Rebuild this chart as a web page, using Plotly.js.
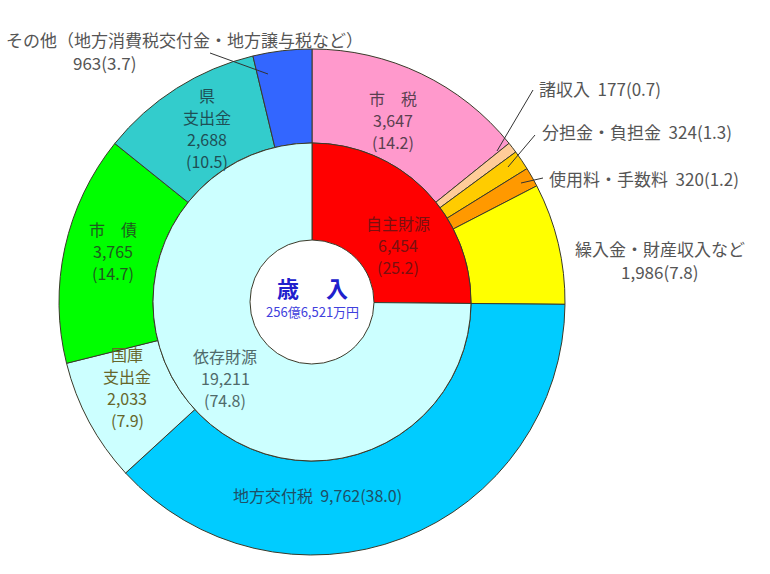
<!DOCTYPE html>
<html>
<head>
<meta charset="utf-8">
<script src="https://cdn.plot.ly/plotly-3.0.1.min.js"></script>
<style>html,body{margin:0;padding:0;background:#fff;}#chart{width:770px;height:574px;}</style>
</head>
<body>
<div id="chart"></div>
<script>
// Outer ring (breakdown), values in 百万円, shares in %
const outerLabels = ['市税','諸収入','分担金・負担金','使用料・手数料','繰入金・財産収入など','地方交付税','国庫支出金','市債','県支出金','その他'];
const outerValues = [3647, 177, 324, 320, 1986, 9762, 2033, 3765, 2688, 963];
const outerShares = [14.2, 0.7, 1.3, 1.2, 7.8, 38.0, 7.9, 14.7, 10.5, 3.7];
const outerColors = ['#FF99CC','#FFCC99','#FFCC00','#FF9900','#FFFF00','#00CCFF','#CCFFFF','#00FF00','#33CCCC','#3366FF'];
// Inner ring
const innerLabels = ['自主財源','依存財源'];
const innerValues = [6454, 19211];
const innerShares = [25.2, 74.8];
const innerColors = ['#FF0000','#CCFFFF'];
const totalText = '256億6,521万円';

const W = 770, H = 574;
const CX = 312, CY = 302, R_OUT = 253, R_IN = 159, R_HOLE = 62;
const px = x => x / W, py = y => 1 - y / H;
const fmt = v => v.toLocaleString('en-US');
const share = s => '(' + s.toFixed(1) + ')';

const FONT = '"Noto Sans CJK JP", "Noto Sans", sans-serif';
const FS = 16, LH = 22;

const outer = {
  type: 'pie', values: outerValues, labels: outerLabels, sort: false,
  direction: 'clockwise', rotation: 0, hole: R_IN / R_OUT,
  textinfo: 'none', hoverinfo: 'label+value', showlegend: false,
  marker: {colors: outerColors, line: {color: '#3a3a2a', width: 1}},
  domain: {x: [px(CX - R_OUT), px(CX + R_OUT)], y: [py(CY + R_OUT), py(CY - R_OUT)]}
};
const inner = {
  type: 'pie', values: innerValues, labels: innerLabels, sort: false,
  direction: 'clockwise', rotation: 0, hole: R_HOLE / R_IN,
  textinfo: 'none', hoverinfo: 'label+value', showlegend: false,
  marker: {colors: innerColors, line: {color: '#3a3a2a', width: 1}},
  domain: {x: [px(CX - R_IN), px(CX + R_IN)], y: [py(CY + R_IN), py(CY - R_IN)]}
};

const ann = [];
function add(text, x, y, color, anchor, size) {
  ann.push({
    text: text, x: px(x), y: py(y), xref: 'paper', yref: 'paper',
    showarrow: false, xanchor: anchor || 'center', yanchor: 'middle',
    font: {family: FONT, size: size || FS, color: color}
  });
}
function stack(lines, x, y, color, anchor) {
  lines.forEach((t, i) => add(t, x, y + i * LH, color, anchor));
}
const grey = '#555555';
const OS = 17;

// outer ring labels
stack(['市　税', fmt(outerValues[0]), share(outerShares[0])], 393, 98, '#5a4050');
add(outerLabels[1] + '  ' + outerValues[1] + share(outerShares[1]), 537, 89, grey, 'left', OS);
add(outerLabels[2] + '  ' + outerValues[2] + share(outerShares[2]), 540, 131, grey, 'left', OS);
add(outerLabels[3] + '  ' + outerValues[3] + share(outerShares[3]), 547, 178, grey, 'left', OS);
add(outerLabels[4], 660, 248, grey, 'center', OS);
add(fmt(outerValues[4]) + share(outerShares[4]), 660, 271, grey, 'center', OS);
add(outerLabels[5] + '  ' + fmt(outerValues[5]) + share(outerShares[5]), 317, 495, '#1f4f66');
stack(['国庫', '支出金', fmt(outerValues[6]), share(outerShares[6])], 127, 354, '#66662a');
stack(['市　債', fmt(outerValues[7]), share(outerShares[7])], 113, 229, '#1f5a1f');
stack(['県', '支出金', fmt(outerValues[8]), share(outerShares[8])], 207, 95, '#1f4f55');
add('その他（地方消費税交付金・地方譲与税など）', 4, 39, grey, 'left', OS);
add(outerValues[9] + share(outerShares[9]), 105, 63, grey, 'center', OS);

// inner ring labels
stack([innerLabels[0], fmt(innerValues[0]), share(innerShares[0])], 398, 223, '#7a1010');
stack([innerLabels[1], fmt(innerValues[1]), share(innerShares[1])], 225, 356, '#506a6a');

// centre
add('<b>歳　 入</b>', 312, 287, '#2020CC', 'center', 22);
add(totalText, 312, 311, '#4040DD', 'center', 13);

// leader lines
const lines = [
  [210, 53, 268, 74],
  [533, 90, 497, 151],
  [535, 135, 508, 167],
  [543, 178, 521, 183]
];
const shapes = lines.map(l => ({
  type: 'line', xref: 'paper', yref: 'paper',
  x0: px(l[0]), y0: py(l[1]), x1: px(l[2]), y1: py(l[3]),
  line: {color: '#333333', width: 1}
}));

Plotly.newPlot('chart', [outer, inner], {
  width: W, height: H, margin: {l: 0, r: 0, t: 0, b: 0},
  paper_bgcolor: '#ffffff', plot_bgcolor: '#ffffff',
  annotations: ann, shapes: shapes, showlegend: false
}, {displayModeBar: false, staticPlot: true});
</script>
</body>
</html>
